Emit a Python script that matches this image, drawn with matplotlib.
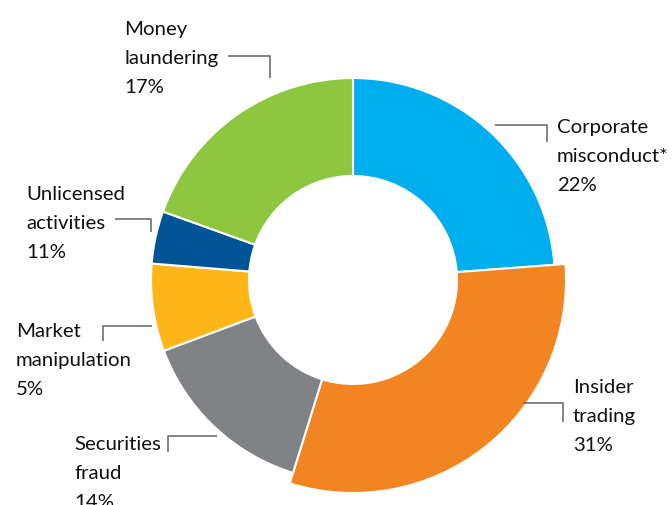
import matplotlib.pyplot as plt

W, H = 672, 506

# slice data (visual shares read from the ring, labelled percentages as printed)
categories = ['Corporate\nmisconduct*', 'Insider\ntrading', 'Securities\nfraud',
              'Market\nmanipulation', 'Unlicensed\nactivities', 'Money\nlaundering']
label_pct = ['22%', '31%', '14%', '5%', '11%', '17%']
shares = [23.8, 31.0, 14.5, 7.0, 4.2, 19.5]
colors = ['#00aeef', '#f28422', '#808285', '#fdb518', '#005596', '#8dc63f']

# label anchors: left x, first baseline y (image pixels)
label_pos = [(557, 133), (573, 393), (74, 450), (16, 337), (26, 200), (124, 35)]
# leader lines (image pixels)
leaders = [
    [(495, 126), (547, 126), (547, 143)],
    [(523, 404), (563, 404), (563, 423)],
    [(217, 437), (168, 437), (168, 453)],
    [(152, 327), (103, 327), (103, 342)],
    [(115, 220), (151, 220), (151, 233)],
    [(228, 57), (270, 57), (270, 79)],
]


def iy(y):
    return H - y


plt.rcParams['font.family'] = ['Lato', 'DejaVu Sans']

fig = plt.figure(figsize=(W / 100, H / 100), dpi=100)
ax = fig.add_axes([0, 0, 1, 1])

cx, cy = 353, 281
r_out, r_in = 202, 104
wedges, _ = ax.pie(
    shares,
    colors=colors,
    startangle=90,
    counterclock=False,
    center=(cx, iy(cy)),
    radius=r_out,
    wedgeprops=dict(width=r_out - r_in, edgecolor='white', linewidth=1.5),
)
# insider trading slice sticks out
wedges[1].set_radius(213)
wedges[1].set_width(213 - r_in)

for pts in leaders:
    xs = [p[0] for p in pts]
    ys = [iy(p[1]) for p in pts]
    ax.plot(xs, ys, color='#6d6e71', linewidth=1.2, solid_capstyle='butt')

line_step = 29
for cat, pct, (x, y) in zip(categories, label_pct, label_pos):
    lines = cat.split('\n') + [pct]
    for i, s in enumerate(lines):
        ax.text(x, iy(y + i * line_step), s, fontsize=14.7, color='#111111',
                ha='left', va='baseline')

ax.set_xlim(0, W)
ax.set_ylim(0, H)
ax.set_aspect('equal')
ax.axis('off')

fig.savefig('out.png', dpi=100)
